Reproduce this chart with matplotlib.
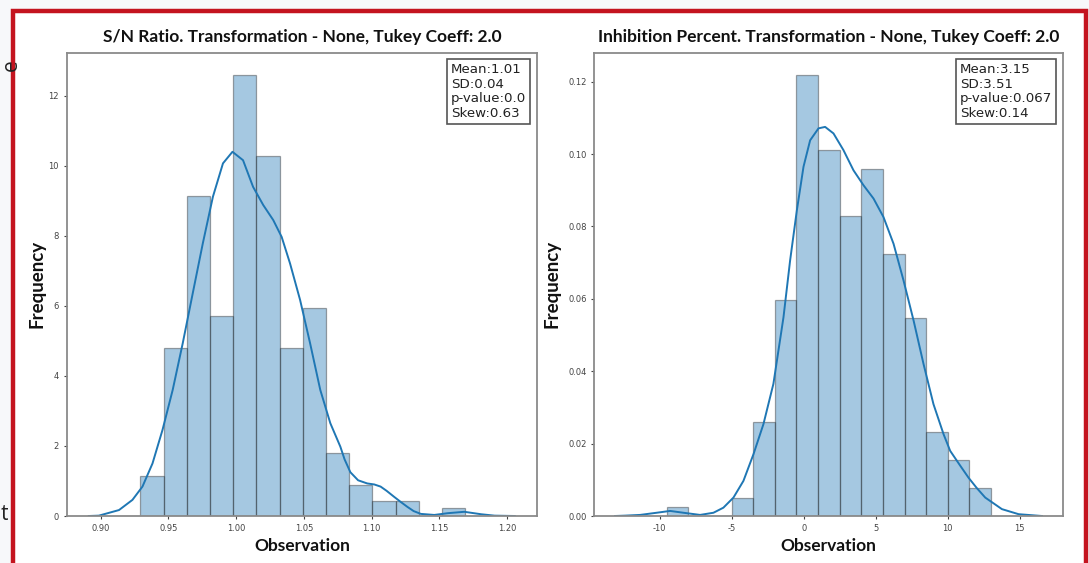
import numpy as np
import matplotlib
matplotlib.use("Agg")
import matplotlib.pyplot as plt
from matplotlib.patches import Rectangle
from matplotlib.offsetbox import AnchoredText

# S/N Ratio panel (density histogram + kde)
sn_edges = [0.9294, 0.9465, 0.9636, 0.9808, 0.9979, 1.0150, 1.0321, 1.0492,
            1.0664, 1.0835, 1.1006, 1.1177, 1.1349, 1.1520, 1.1691]
sn_heights = [1.13, 4.80, 9.14, 5.71, 12.59, 10.29, 4.79, 5.94,
              1.81, 0.88, 0.44, 0.44, 0.0, 0.22]
sn_kde_x = [0.8913, 0.8987, 0.9136, 0.9235, 0.9309, 0.9383, 0.9457, 0.9532,
            0.9606, 0.9680, 0.9754, 0.9829, 0.9903, 0.9973, 1.0051, 1.0125,
            1.0200, 1.0274, 1.0336, 1.0398, 1.0472, 1.0546, 1.0621, 1.0695,
            1.0769, 1.0800, 1.0843, 1.0900, 1.0967, 1.1020, 1.1066, 1.1110,
            1.1165, 1.1215, 1.1264, 1.1310, 1.1363, 1.1462, 1.1561, 1.1684,
            1.1808, 1.1907, 1.2056]
sn_kde_y = [0.0, 0.01, 0.17, 0.46, 0.84, 1.50, 2.46, 3.60,
            4.93, 6.36, 7.78, 9.12, 10.07, 10.40, 10.16, 9.40,
            8.88, 8.45, 7.97, 7.21, 6.17, 4.93, 3.60, 2.65,
            1.98, 1.62, 1.25, 1.02, 0.93, 0.90, 0.84, 0.72,
            0.55, 0.40, 0.26, 0.14, 0.06, 0.03, 0.08, 0.12,
            0.05, 0.01, 0.0]
sn_stats = "Mean:1.01\nSD:0.04\np-value:0.0\nSkew:0.63"

# Inhibition Percent panel
ip_edges = [-9.5, -8.0, -6.5, -5.0, -3.5, -2.0, -0.5, 1.0,
            2.5, 4.0, 5.5, 7.0, 8.5, 10.0, 11.5, 13.0]
ip_heights = [0.0026, 0.0, 0.0, 0.0050, 0.0259, 0.0597, 0.1219, 0.1011,
              0.0829, 0.0960, 0.0725, 0.0546, 0.0231, 0.0156, 0.0076]
ip_kde_x = [-13.09, -12.40, -11.35, -10.20, -9.27, -8.35, -7.19, -6.26,
            -5.57, -4.87, -4.18, -3.48, -2.79, -2.10, -1.40, -0.94,
            -0.47, -0.01, 0.45, 1.03, 1.49, 2.07, 2.76, 3.46,
            4.15, 4.85, 5.54, 6.24, 6.93, 7.63, 8.32, 9.01,
            9.71, 10.17, 10.85, 11.44, 12.00, 12.60, 13.76, 14.92, 16.54]
ip_kde_y = [0.0, 0.0001, 0.0003, 0.0009, 0.0014, 0.0009, 0.0003, 0.0009,
            0.0023, 0.0051, 0.0097, 0.0171, 0.0254, 0.0365, 0.0549, 0.0706,
            0.0845, 0.0965, 0.1038, 0.1071, 0.1075, 0.1057, 0.1011, 0.0955,
            0.0914, 0.0877, 0.0826, 0.0752, 0.0651, 0.0540, 0.0420, 0.0309,
            0.0226, 0.0180, 0.0140, 0.0106, 0.0078, 0.0051, 0.0019, 0.0005, 0.0]
ip_stats = "Mean:3.15\nSD:3.51\np-value:0.067\nSkew:0.14"

titles = ["S/N Ratio. Transformation - None, Tukey Coeff: 2.0",
          "Inhibition Percent. Transformation - None, Tukey Coeff: 2.0"]

blue = "#1f77b4"
head_font = "Lato"

fig = plt.figure(figsize=(10.89, 5.63), dpi=100)
fig.patch.set_facecolor("#f7f8fa")

# white page inside the red frame
fig.patches.append(Rectangle((13 / 1089, -0.05), 1073 / 1089, 1.05 - 11 / 563,
                             transform=fig.transFigure, facecolor="white",
                             edgecolor="#c4141f", linewidth=3.2, zorder=-10))

# stray letters from the page around the figure
fig.text(0.0005, 1 - 65 / 563, "e", fontsize=15, rotation=90, family="Open Sans",
         ha="left", va="center", color="#222222")
fig.text(0.0005, 1 - 515 / 563, "t", fontsize=15, family="Open Sans",
         ha="left", va="center", color="#222222")

panels = [
    (sn_edges, sn_heights, sn_kde_x, sn_kde_y, sn_stats,
     [66.7, 537], (0.875, 1.222), (0, 13.23), [0.90, 0.95, 1.00, 1.05, 1.10, 1.15, 1.20],
     "{:.2f}", [0, 2, 4, 6, 8, 10, 12], "{:g}", 2.0),
    (ip_edges, ip_heights, ip_kde_x, ip_kde_y, ip_stats,
     [594.3, 1063], (-14.53, 18.0), (0, 0.128), [-10, -5, 0, 5, 10, 15],
     "{:g}", [0.0, 0.02, 0.04, 0.06, 0.08, 0.10, 0.12], "{:.2f}", 5.5),
]

for i, (edges, heights, kx, ky, stats, xpix, xlim, ylim, xt, xfmt, yt, yfmt, ypad) in enumerate(panels):
    left = xpix[0] / 1089
    width = (xpix[1] - xpix[0]) / 1089
    ax = fig.add_axes([left, (563 - 516) / 563, width, (516 - 52.7) / 563])
    ax.bar(edges[:-1], heights, width=np.diff(edges), align="edge",
           color=blue, alpha=0.4, edgecolor="#222222", linewidth=0.9)
    ax.plot(kx, ky, color=blue, linewidth=1.4, solid_joinstyle="round")
    ax.set_xlim(*xlim)
    ax.set_ylim(*ylim)
    ax.set_xticks(xt)
    ax.set_xticklabels([xfmt.format(v) for v in xt])
    ax.set_yticks(yt)
    ax.set_yticklabels([yfmt.format(v) for v in yt])
    ax.tick_params(labelsize=6, colors="#444444", length=2.5, width=0.8, pad=3)
    for s in ax.spines.values():
        s.set_color("#8a8a8a")
        s.set_linewidth(1.3)
    ax.set_title(titles[i], fontsize=12.5, fontweight="bold", family=head_font,
                 pad=8, color="#111111")
    ax.set_xlabel("Observation", fontsize=12.5, fontweight="bold", family=head_font,
                  labelpad=4, color="#111111")
    ax.set_ylabel("Frequency", fontsize=13.5, fontweight="bold", family=head_font,
                  labelpad=ypad, color="#111111")
    box = AnchoredText(stats, loc="upper right", frameon=True, borderpad=0.5, pad=0.3,
                       prop=dict(size=9.6, family="DejaVu Sans", color="#222222",
                                 linespacing=1.15))
    box.patch.set_boxstyle("square,pad=0")
    box.patch.set_edgecolor("#555555")
    box.patch.set_linewidth(1.2)
    ax.add_artist(box)

fig.savefig("out.png", dpi=100, facecolor=fig.get_facecolor())
